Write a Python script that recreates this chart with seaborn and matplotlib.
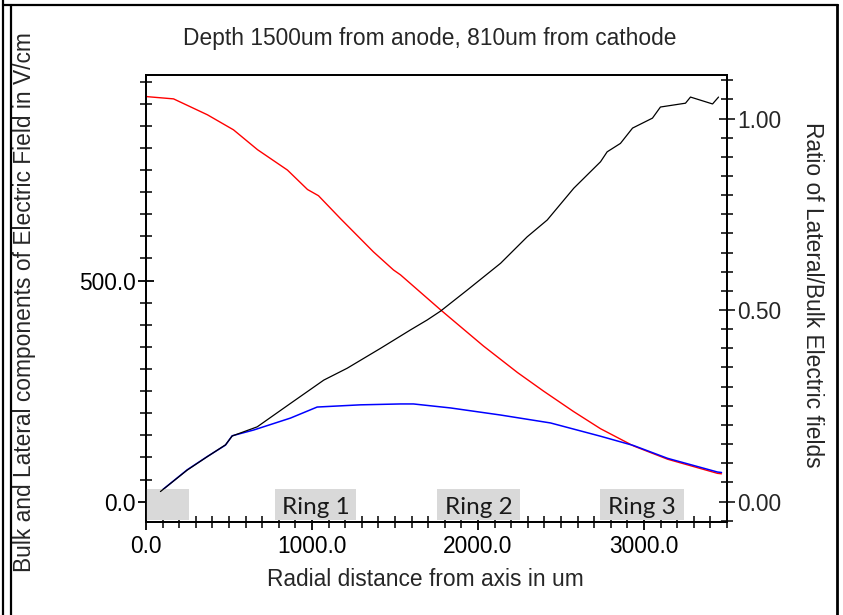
import matplotlib
matplotlib.use("Agg")
import matplotlib.pyplot as plt
from matplotlib.lines import Line2D
from matplotlib.patches import Rectangle
from matplotlib.ticker import MultipleLocator, FormatStrFormatter
import seaborn as sns
import pandas as pd

# ---- data ----
bulk_x = [0, 7, 166, 370, 527, 672, 852, 973, 1039, 1172, 1370, 1491, 1533, 1774,
          2033, 2238, 2395, 2575, 2738, 2937, 3142, 3443, 3467]
bulk_y = [918, 916, 911, 875, 841, 796, 750, 706, 692, 640, 565, 524, 513, 434,
          352, 292, 250, 204, 165, 126, 96, 64, 63]

lat_x = [87, 248, 369, 479, 519, 648, 870, 1031, 1292, 1533, 1611, 1834, 2135,
         2437, 2738, 2937, 3142, 3443, 3467]
lat_y = [23, 72, 102, 128, 149, 162, 189, 214, 219, 221, 221, 212, 196,
         178, 148, 127, 98, 67, 66]

ratio_x = [87, 248, 369, 479, 519, 670, 870, 1071, 1212, 1413, 1593, 1694, 1774,
           1935, 2136, 2296, 2417, 2577, 2738, 2778, 2858, 2931, 3051, 3099,
           3250, 3280, 3413, 3449]
ratio_y = [0.026, 0.082, 0.117, 0.148, 0.171, 0.195, 0.256, 0.317, 0.348, 0.400,
           0.448, 0.474, 0.497, 0.552, 0.622, 0.691, 0.735, 0.818, 0.887, 0.913,
           0.935, 0.975, 1.001, 1.030, 1.040, 1.056, 1.038, 1.056]

ring_labels = ["", "Ring 1", "Ring 2", "Ring 3"]
ring_start = [0, 780, 1754, 2734]
ring_end = [258, 1268, 2254, 3238]

title = "Depth 1500um from anode, 810um from cathode"
xlabel = "Radial distance from axis in um"
ylabel_left = "Bulk and Lateral components of Electric Field in V/cm"
ylabel_right = "Ratio of Lateral/Bulk Electric fields"

# ---- style ----
sns.set_style("ticks")
plt.rcParams["font.family"] = ["Liberation Sans", "DejaVu Sans"]
FS = 16.4

W, H = 843, 615
fig = plt.figure(figsize=(W / 100, H / 100), dpi=100)
L, R, T, B = 146, 727, 75, 522
ax = fig.add_axes([L / W, 1 - B / H, (R - L) / W, (B - T) / H])
ax2 = ax.twinx()

bulk = pd.DataFrame({"x": bulk_x, "y": bulk_y})
lat = pd.DataFrame({"x": lat_x, "y": lat_y})
rat = pd.DataFrame({"x": ratio_x, "y": ratio_y})

sns.lineplot(data=bulk, x="x", y="y", ax=ax, color="#ff0000", lw=1.0, sort=False, zorder=3)
sns.lineplot(data=lat, x="x", y="y", ax=ax, color="#0000ff", lw=1.1, sort=False, zorder=4)
sns.lineplot(data=rat, x="x", y="y", ax=ax2, color="black", lw=0.9, sort=False, zorder=3)

ax.set_xlim(0, 3500)
ax.set_ylim(-46, 965)
ax2.set_ylim(-0.0535, 1.1136)

for a in (ax, ax2):
    a.set_xlabel("")
    a.set_ylabel("")
    for s in a.spines.values():
        s.set_linewidth(1.3)
        s.set_color("black")
        s.set_visible(True)

ax.xaxis.set_major_locator(MultipleLocator(1000))
ax.xaxis.set_minor_locator(MultipleLocator(100))
ax.xaxis.set_major_formatter(FormatStrFormatter("%.1f"))
ax.yaxis.set_major_locator(MultipleLocator(500))
ax.yaxis.set_minor_locator(MultipleLocator(50))
ax.yaxis.set_major_formatter(FormatStrFormatter("%.1f"))
ax2.yaxis.set_major_locator(MultipleLocator(0.5))
ax2.yaxis.set_minor_locator(MultipleLocator(0.05))
ax2.yaxis.set_major_formatter(FormatStrFormatter("%.2f"))

ax.tick_params(axis="both", which="major", direction="inout", length=11, width=1.3,
               labelsize=FS, colors="black", pad=2)
ax.tick_params(axis="both", which="minor", direction="inout", length=8, width=1.3)
ax.tick_params(axis="x", which="major", pad=4)
ax2.tick_params(axis="y", which="major", direction="inout", length=11, width=1.3,
                labelsize=FS, pad=2)
ax2.tick_params(axis="y", which="minor", direction="inout", length=8, width=1.3)

# gray ring boxes (overlay)
for lab, x0, x1 in zip(ring_labels, ring_start, ring_end):
    ax.add_patch(Rectangle((x0, -42), x1 - x0, 70, facecolor="#d9d9d9",
                           edgecolor="none", zorder=6))
    if lab:
        ax.text((x0 + x1) / 2, -13, lab, ha="center", va="center",
                fontsize=17.5, family=["Lato", "DejaVu Sans"], color="#1a1a1a", zorder=7)

# texts
fig.text(430 / W, 1 - 38 / H, title, ha="center", va="center", fontsize=FS)
fig.text(425 / W, 1 - 580 / H, xlabel, ha="center", va="center", fontsize=FS)
fig.text(25 / W, 1 - 302 / H, ylabel_left, ha="center", va="center", fontsize=FS,
         rotation=90)
fig.text(812 / W, 1 - 295 / H, ylabel_right, ha="center", va="center", fontsize=FS,
         rotation=270)

# outer frame
def fl(x0, y0, x1, y1, lw=1.6):
    fig.add_artist(Line2D([x0 / W, x1 / W], [1 - y0 / H, 1 - y1 / H], color="black",
                          lw=lw, transform=fig.transFigure))

fl(3, 0, 3, H)
fl(11, 5, 11, H)
fl(3, 5, 838, 5)
fl(837, 5, 837, H, lw=2)

fig.savefig("out.png", dpi=100)
